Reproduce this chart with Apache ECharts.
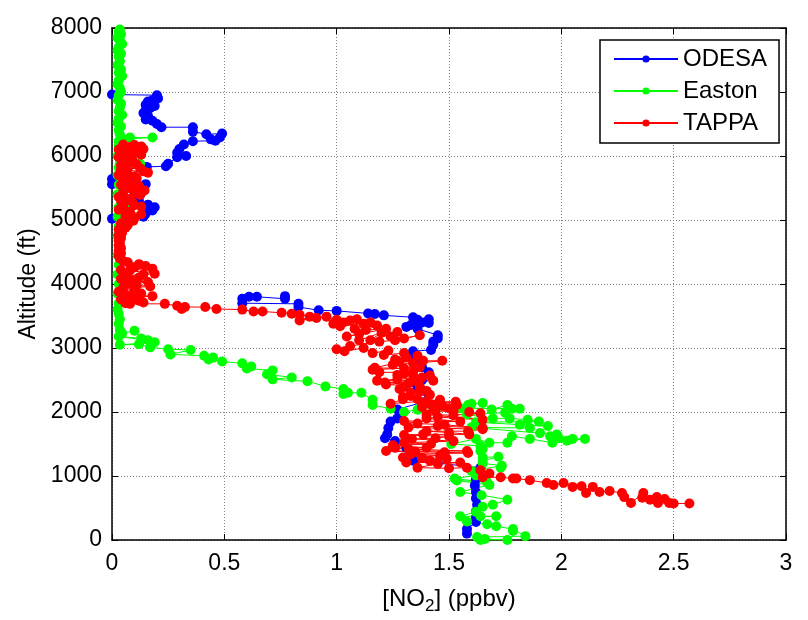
<!DOCTYPE html>
<html><head><meta charset="utf-8">
<script src="https://cdn.jsdelivr.net/npm/echarts@6/dist/echarts.min.js"></script>
<style>html,body{margin:0;padding:0;background:#fff}#c{width:808px;height:620px}</style>
</head><body><div id="c"></div>
<script>
// ---- data ----
const seriesNames = ['ODESA', 'Easton', 'TAPPA'];
const xTickMin = 0, xTickMax = 3, xTickStep = 0.5;
const yTickMin = 0, yTickMax = 8000, yTickStep = 1000;

const odesaUpper = [
[0.00,6960],[0.20,6950],[0.205,6900],[0.18,6870],[0.16,6850],[0.15,6800],[0.19,6780],[0.17,6750],[0.15,6720],[0.14,6670],
[0.16,6630],[0.15,6570],[0.18,6550],[0.20,6500],[0.22,6450],[0.36,6450],[0.36,6380],[0.42,6340],[0.49,6350],[0.48,6290],
[0.44,6260],[0.46,6240],[0.36,6230],[0.32,6180],[0.30,6110],[0.29,6050],[0.33,6000],[0.29,5980],[0.25,5880],[0.24,5840],
[0.155,5830],[0.14,5790],[0.00,5640],[0.00,5560],[0.15,5560],[0.14,5510],[0.07,5550],[0.10,5440],[0.13,5420],[0.09,5340],
[0.12,5300],[0.16,5240],[0.19,5200],[0.18,5150],[0.15,5100],[0.14,5050],[0.00,5020]
];
const odesaLower = [
[0.77,3810],[0.77,3770],[0.645,3800],[0.61,3800],[0.58,3770],[0.58,3700],[0.83,3690],[0.83,3640],[0.92,3590],[1.00,3580],
[1.14,3540],[1.17,3530],[1.21,3510],[1.34,3480],[1.36,3440],[1.38,3400],[1.41,3450],[1.41,3390],[1.33,3360],[1.31,3330],
[1.36,3300],[1.45,3200],[1.45,3150],[1.43,3100],[1.43,3050],[1.42,2970],[1.34,2950],[1.33,2850],[1.35,2750],[1.38,2700],
[1.41,2620],[1.38,2500],[1.36,2400],[1.41,2270],[1.38,2150],[1.27,2040],[1.27,1900],[1.24,1850],[1.23,1750],[1.225,1650],
[1.215,1590],[1.26,1545],[1.31,1440],[1.33,1350],[1.34,1240],[1.45,1200],[1.64,1130],[1.62,1050],[1.62,950],[1.615,850],
[1.62,750],[1.62,650],[1.625,550],[1.62,450],[1.62,350],[1.62,280],[1.58,170],[1.58,100]
];

const easton = [
[0.035,7975],[0.03,7940],[0.04,7900],[0.025,7850],[0.035,7800],[0.045,7750],[0.03,7700],[0.025,7650],[0.04,7600],[0.03,7550],
[0.035,7480],[0.025,7420],[0.04,7350],[0.03,7300],[0.045,7250],[0.03,7180],[0.025,7120],[0.035,7060],[0.04,7000],[0.03,6950],
[0.025,6880],[0.04,6820],[0.035,6760],[0.03,6700],[0.045,6640],[0.03,6580],[0.025,6520],[0.04,6460],[0.03,6400],[0.035,6340],
[0.08,6290],[0.18,6290],[0.05,6260],[0.03,6230],[0.03,6150],[0.025,6000],[0.035,5880],[0.125,5880],[0.03,5820],[0.025,5700],
[0.03,5550],[0.025,5400],[0.067,5250],[0.03,5200],[0.025,5050],[0.03,4900],[0.025,4750],[0.03,4600],[0.025,4450],[0.03,4300],
[0.025,4150],[0.03,4000],[0.025,3850],[0.03,3700],[0.025,3600],[0.03,3530],[0.035,3450],[0.03,3380],[0.035,3280],[0.045,3230],
[0.10,3270],[0.13,3150],[0.03,3180],[0.16,3120],[0.19,3090],[0.035,3050],[0.12,3060],[0.17,3010],[0.25,2980],[0.35,2970],
[0.26,2900],[0.41,2880],[0.45,2850],[0.43,2820],[0.49,2790],[0.58,2760],[0.62,2710],[0.60,2680],[0.715,2650],[0.69,2590],
[0.80,2540],[0.715,2510],[0.87,2480],[0.95,2400],[1.03,2360],[1.03,2280],[1.05,2300],[1.11,2300],[1.16,2190],[1.16,2110],
[1.24,2050],[1.30,2000],[1.36,2035],[1.45,2080],[1.585,2110],[1.60,2130],[1.65,2140],[1.69,2040],[1.76,2110],[1.78,2050],
[1.55,2060],[1.815,2050],[1.75,1990],[1.58,1960],[1.695,1900],[1.77,1900],[1.85,1880],[1.90,1850],[1.62,1840],[1.94,1780],
[1.815,1800],[1.86,1750],[1.60,1760],[1.905,1670],[1.98,1650],[1.95,1620],[1.99,1590],[2.05,1580],[2.105,1580],[2.025,1550],
[1.96,1520],[1.86,1580],[1.78,1620],[1.76,1520],[1.68,1520],[1.62,1580],[1.51,1500],[1.64,1470],[1.65,1420],[1.64,1390],
[1.65,1290],[1.72,1300],[1.65,1240],[1.65,1200],[1.735,1160],[1.73,1130],[1.60,1080],[1.62,1010],[1.525,960],[1.67,900],
[1.535,930],[1.68,860],[1.55,750],[1.645,700],[1.76,630],[1.695,550],[1.65,520],[1.62,440],[1.55,370],[1.71,370],
[1.64,370],[1.58,290],[1.67,245],[1.71,215],[1.785,170],[1.785,140],[1.84,60],[1.625,45],[1.66,15],[1.76,0],[1.64,0]
];

const tappa = [
[0.05,6180],[0.10,6170],[0.13,6150],[0.08,6140],[0.14,6110],[0.03,6100],[0.06,6090],[0.12,6060],[0.09,6050],[0.04,6030],
[0.13,6020],[0.06,6000],[0.03,5980],[0.09,5950],[0.05,5920],[0.08,5900],[0.11,5870],[0.04,5850],[0.125,5810],[0.07,5800],
[0.04,5780],[0.14,5760],[0.16,5740],[0.07,5720],[0.03,5700],[0.10,5680],[0.11,5650],[0.05,5630],[0.06,5600],[0.09,5580],
[0.04,5550],[0.12,5530],[0.08,5500],[0.145,5460],[0.05,5440],[0.10,5420],[0.125,5390],[0.03,5360],[0.07,5330],[0.04,5300],
[0.09,5280],[0.05,5260],[0.10,5230],[0.13,5210],[0.05,5190],[0.03,5160],[0.08,5130],[0.13,5090],[0.06,5060],[0.10,5030],
[0.095,4990],[0.04,4950],[0.07,4920],[0.06,4880],[0.03,4850],[0.045,4800],[0.03,4760],[0.04,4720],[0.03,4680],[0.035,4640],
[0.03,4600],[0.04,4560],[0.03,4520],[0.04,4480],[0.03,4440],[0.035,4400],[0.05,4360],[0.07,4340],[0.12,4310],[0.15,4280],
[0.10,4260],[0.18,4240],[0.04,4220],[0.08,4210],[0.19,4160],[0.14,4150],[0.06,4130],[0.12,4100],[0.04,4080],[0.09,4060],
[0.16,4030],[0.07,4000],[0.11,3980],[0.17,3960],[0.05,3940],[0.10,3900],[0.03,3880],[0.13,3850],[0.06,3830],[0.18,3810],
[0.09,3790],[0.04,3760],[0.12,3740],[0.14,3710],[0.06,3700],[0.08,3690],[0.235,3690],[0.29,3660],[0.31,3610],[0.325,3640],
[0.415,3640],[0.465,3610],[0.58,3600],[0.63,3570],[0.67,3570],[0.755,3550],[0.80,3535],[0.835,3520],[0.88,3490],[0.835,3430],
[0.91,3470],[0.955,3490],[1.00,3440],[0.985,3380],[1.06,3430],[1.03,3400],[1.015,3340],[1.12,3380],[1.09,3450],[1.15,3400],
[1.08,3300],[1.18,3350],[1.13,3280],[1.22,3300],[1.045,3180],[1.10,3220],[1.10,3120],[1.20,3240],[1.15,3120],[1.27,3250],
[1.24,3180],[1.30,3150],[1.37,3200],[1.26,3120],[1.19,3100],[1.06,3030],[1.00,2980],[1.035,2950],[1.12,3000],[1.16,2920],
[1.23,2960],[1.21,2890],[1.30,2920],[1.26,2820],[1.31,2850],[1.36,2880],[1.385,2800],[1.47,2800],[1.34,2760],[1.25,2740],
[1.28,2780],[1.17,2690],[1.30,2680],[1.37,2700],[1.16,2660],[1.19,2620],[1.34,2620],[1.27,2580],[1.30,2600],[1.34,2570],
[1.415,2570],[1.38,2540],[1.27,2510],[1.18,2490],[1.43,2490],[1.215,2460],[1.32,2450],[1.36,2470],[1.22,2430],[1.37,2400],
[1.30,2390],[1.28,2360],[1.40,2330],[1.33,2300],[1.37,2320],[1.415,2270],[1.295,2235],[1.36,2200],[1.33,2250],[1.295,2200],
[1.24,2130],[1.46,2190],[1.40,2170],[1.46,2160],[1.53,2160],[1.42,2120],[1.535,2110],[1.47,2100],[1.38,2080],[1.50,2060],
[1.43,2050],[1.59,2000],[1.44,2020],[1.52,2010],[1.64,1980],[1.52,1950],[1.40,1960],[1.65,1880],[1.45,1920],[1.40,1900],
[1.55,1850],[1.30,1860],[1.36,1820],[1.48,1800],[1.65,1750],[1.45,1780],[1.32,1760],[1.65,1730],[1.585,1700],[1.40,1700],
[1.50,1680],[1.59,1650],[1.385,1650],[1.30,1640],[1.50,1620],[1.44,1590],[1.335,1580],[1.52,1545],[1.30,1520],[1.42,1500],
[1.25,1480],[1.40,1440],[1.26,1440],[1.32,1420],[1.58,1390],[1.22,1390],[1.35,1380],[1.48,1370],[1.585,1360],[1.33,1340],
[1.46,1320],[1.295,1290],[1.38,1290],[1.49,1270],[1.415,1240],[1.31,1210],[1.55,1210],[1.45,1190],[1.36,1130],[1.50,1120],
[1.58,1130],[1.64,1090],[1.68,1040],[1.65,980],[1.73,980],[1.785,960],[1.80,960],[1.86,935],[1.935,890],[1.965,860],
[2.01,890],[2.05,830],[2.09,840],[2.11,735],[2.14,830],[2.17,750],[2.215,765],[2.27,735],[2.28,670],[2.31,580],
[2.365,735],[2.36,660],[2.395,630],[2.425,670],[2.43,580],[2.46,640],[2.48,580],[2.50,570],[2.57,570]
];

// ---- chart ----
const FONT = 'Liberation Sans, Arial, sans-serif';
const chart = echarts.init(document.getElementById('c'), null, {renderer: 'canvas'});
const gridStyle = {show: true, lineStyle: {color: '#808080', width: 1, type: [1, 2]}};
const tickIn = {show: true, inside: true, length: 6, lineStyle: {color: '#000', width: 1}};
const axisLine = {show: true, onZero: false, lineStyle: {color: '#000', width: 1.5}};
const colors = ['#0000ff', '#00ff00', '#ff0000'];

function mkSeries(name, data, color) {
  return {
    name: name, type: 'line', data: data, color: color,
    symbol: 'circle', symbolSize: 10, showSymbol: true,
    lineStyle: {color: color, width: 1}, itemStyle: {color: color},
    connectNulls: false, animation: false, z: 2
  };
}

chart.setOption({
  backgroundColor: '#fff',
  animation: false,
  grid: {left: 112, right: 22, top: 28, bottom: 69, containLabel: false},
  legend: {
    show: true, data: seriesNames, orient: 'vertical',
    left: 600, top: 40,
    backgroundColor: '#fff', borderColor: '#000', borderWidth: 1.5,
    padding: [7, 12, 8, 13], itemGap: 8, itemWidth: 64, itemHeight: 9,
    textStyle: {fontFamily: FONT, fontSize: 24, color: '#000', lineHeight: 24}
  },
  xAxis: [{
    type: 'value', min: xTickMin, max: xTickMax, interval: xTickStep, position: 'bottom',
    name: '{a|[NO}{s|2}{a|] (ppbv)}', nameLocation: 'middle', nameGap: 44,
    nameTextStyle: {rich: {a: {fontFamily: FONT, fontSize: 24, color: '#000'}, s: {fontFamily: FONT, fontSize: 17, color: '#000', padding: [14, 0, 0, 0]}}},
    axisLine: axisLine, axisTick: tickIn, splitLine: gridStyle,
    axisLabel: {fontFamily: FONT, fontSize: 23, color: '#000', margin: 12}
  }, {
    type: 'value', min: xTickMin, max: xTickMax, interval: xTickStep, position: 'top',
    axisLine: axisLine, axisTick: tickIn, splitLine: {show: false}, axisLabel: {show: false}
  }],
  yAxis: [{
    type: 'value', min: yTickMin, max: yTickMax, interval: yTickStep, position: 'left',
    name: 'Altitude (ft)', nameLocation: 'middle', nameGap: 72, nameRotate: 90,
    nameTextStyle: {fontFamily: FONT, fontSize: 23, color: '#000'},
    axisLine: axisLine, axisTick: tickIn, splitLine: gridStyle,
    axisLabel: {fontFamily: FONT, fontSize: 23, color: '#000', margin: 10, formatter: function (v) { return String(v); }}
  }, {
    type: 'value', min: yTickMin, max: yTickMax, interval: yTickStep, position: 'right',
    axisLine: axisLine, axisTick: tickIn, splitLine: {show: false}, axisLabel: {show: false}
  }],
  series: [
    mkSeries('ODESA', odesaUpper.concat([['-', '-']], odesaLower), colors[0]),
    mkSeries('Easton', easton, colors[1]),
    mkSeries('TAPPA', tappa, colors[2])
  ]
});
</script>
</body></html>
